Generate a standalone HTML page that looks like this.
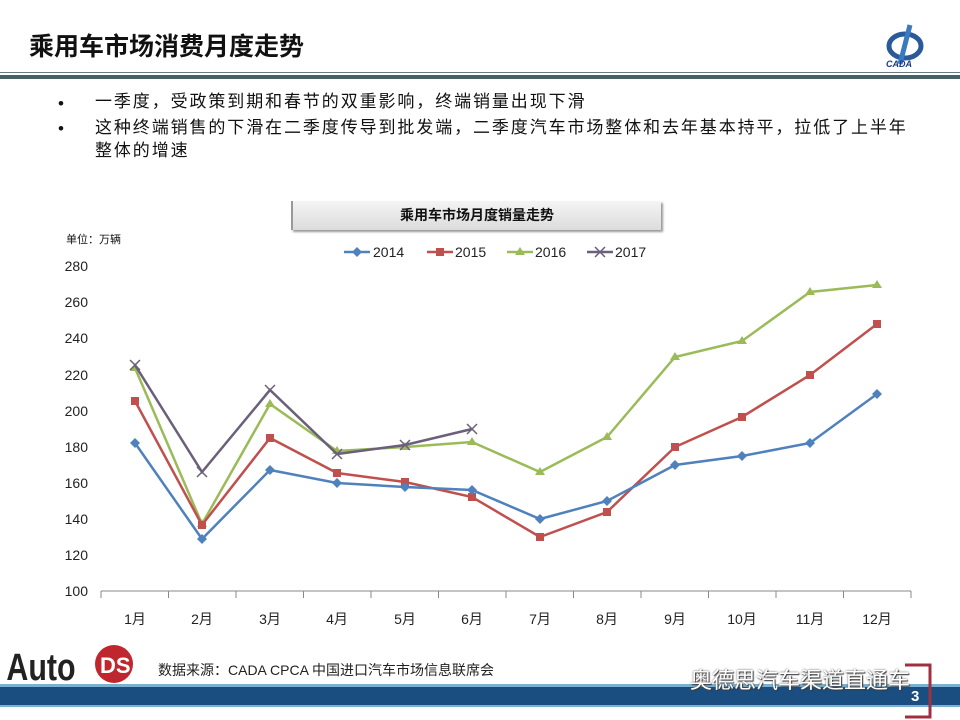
<!DOCTYPE html>
<html><head><meta charset="utf-8"><style>
body{margin:0;width:960px;height:720px;background:#fff;overflow:hidden;position:relative;font-family:"Liberation Sans","Noto Sans CJK SC",sans-serif}
.t{position:absolute}
</style></head><body>
<div class="t" style="left:29px;top:27px;font-size:25px;font-weight:bold;color:#111;letter-spacing:0px">乘用车市场消费月度走势</div>
<div class="t" style="left:880px;top:20px;width:50px;height:48px">
<svg width="50" height="48"><ellipse cx="25" cy="26" rx="16" ry="12" fill="none" stroke="#2a5a9a" stroke-width="5"/><path d="M30 5 L20 44" stroke="#3a7ac0" stroke-width="5"/><text x="6" y="47" font-size="9" font-style="italic" font-weight="bold" fill="#1a3a8a">CADA</text></svg></div>
<div class="t" style="left:0;top:72px;width:960px;height:1px;background:#6a7a80"></div>
<div class="t" style="left:0;top:75px;width:960px;height:4px;background:#4a5e66"></div>
<div class="t" style="left:58px;top:92px;font-size:17px;color:#111;line-height:24px">•</div>
<div class="t" style="left:95px;top:90px;font-size:17px;color:#111;line-height:24px;letter-spacing:1.9px">一季度，受政策到期和春节的双重影响，终端销量出现下滑</div>
<div class="t" style="left:58px;top:117px;font-size:17px;color:#111;line-height:24px">•</div>
<div class="t" style="left:95px;top:116px;width:840px;font-size:17px;color:#111;line-height:23px;white-space:nowrap;letter-spacing:1.9px">这种终端销售的下滑在二季度传导到批发端，二季度汽车市场整体和去年基本持平，拉低了上半年<br>整体的增速</div>
<div class="t" style="left:291px;top:201px;width:368px;height:29px;background:linear-gradient(#f4f4f4,#dcdcdc);box-shadow:2px 2px 2px #999;border-left:2px solid #999;text-align:center;font-size:14px;font-weight:bold;line-height:29px;color:#111">乘用车市场月度销量走势</div>
<div class="t" style="left:66px;top:231px;font-size:11px;color:#111">单位：万辆</div>
<svg class="t" style="left:0;top:0" width="960" height="720">
<g font-size="14" fill="#222" text-anchor="end" font-family="Liberation Sans,sans-serif">
<text x="88" y="596">100</text><text x="88" y="560">120</text><text x="88" y="524">140</text><text x="88" y="488">160</text><text x="88" y="452">180</text><text x="88" y="416">200</text><text x="88" y="380">220</text><text x="88" y="343">240</text><text x="88" y="307">260</text><text x="88" y="271">280</text>
</g>
<line x1="101" y1="591" x2="911" y2="591" stroke="#888"/>
<g stroke="#888"><line x1="101" y1="591" x2="101" y2="598"/><line x1="168.5" y1="591" x2="168.5" y2="598"/><line x1="236" y1="591" x2="236" y2="598"/><line x1="303.5" y1="591" x2="303.5" y2="598"/><line x1="371" y1="591" x2="371" y2="598"/><line x1="438.5" y1="591" x2="438.5" y2="598"/><line x1="506" y1="591" x2="506" y2="598"/><line x1="573.5" y1="591" x2="573.5" y2="598"/><line x1="641" y1="591" x2="641" y2="598"/><line x1="708.5" y1="591" x2="708.5" y2="598"/><line x1="776" y1="591" x2="776" y2="598"/><line x1="843.5" y1="591" x2="843.5" y2="598"/><line x1="911" y1="591" x2="911" y2="598"/></g>
<g font-size="14" fill="#222" text-anchor="middle" font-family="Liberation Sans,'Noto Sans CJK SC',sans-serif">
<text x="135" y="624">1月</text><text x="202" y="624">2月</text><text x="270" y="624">3月</text><text x="337" y="624">4月</text><text x="405" y="624">5月</text><text x="472" y="624">6月</text><text x="540" y="624">7月</text><text x="607" y="624">8月</text><text x="675" y="624">9月</text><text x="742" y="624">10月</text><text x="810" y="624">11月</text><text x="877" y="624">12月</text>
</g>
<polyline fill="none" stroke="#9bbb59" stroke-width="2.5" points="135,368 202,524 270,404 337,451 405,447 472,442 540,472 607,437 675,357 742,341 810,292 877,285"/>
<g fill="#9bbb59"><path d="M135,363l5,8h-10z"/><path d="M202,519l5,8h-10z"/><path d="M270,399l5,8h-10z"/><path d="M337,446l5,8h-10z"/><path d="M405,442l5,8h-10z"/><path d="M472,437l5,8h-10z"/><path d="M540,467l5,8h-10z"/><path d="M607,432l5,8h-10z"/><path d="M675,352l5,8h-10z"/><path d="M742,336l5,8h-10z"/><path d="M810,287l5,8h-10z"/><path d="M877,280l5,8h-10z"/></g>
<polyline fill="none" stroke="#c0504d" stroke-width="2.5" points="135,401 202,525 270,438 337,473 405,482 472,497 540,537 607,512 675,447 742,417 810,375 877,324"/>
<g fill="#c0504d"><rect x="131" y="397" width="8" height="8"/><rect x="198" y="521" width="8" height="8"/><rect x="266" y="434" width="8" height="8"/><rect x="333" y="469" width="8" height="8"/><rect x="401" y="478" width="8" height="8"/><rect x="468" y="493" width="8" height="8"/><rect x="536" y="533" width="8" height="8"/><rect x="603" y="508" width="8" height="8"/><rect x="671" y="443" width="8" height="8"/><rect x="738" y="413" width="8" height="8"/><rect x="806" y="371" width="8" height="8"/><rect x="873" y="320" width="8" height="8"/></g>
<polyline fill="none" stroke="#4f81bd" stroke-width="2.5" points="135,443 202,539 270,470 337,483 405,487 472,490 540,519 607,501 675,465 742,456 810,443 877,394"/>
<g fill="#4f81bd"><path d="M135,438l5,5l-5,5l-5,-5z"/><path d="M202,534l5,5l-5,5l-5,-5z"/><path d="M270,465l5,5l-5,5l-5,-5z"/><path d="M337,478l5,5l-5,5l-5,-5z"/><path d="M405,482l5,5l-5,5l-5,-5z"/><path d="M472,485l5,5l-5,5l-5,-5z"/><path d="M540,514l5,5l-5,5l-5,-5z"/><path d="M607,496l5,5l-5,5l-5,-5z"/><path d="M675,460l5,5l-5,5l-5,-5z"/><path d="M742,451l5,5l-5,5l-5,-5z"/><path d="M810,438l5,5l-5,5l-5,-5z"/><path d="M877,389l5,5l-5,5l-5,-5z"/></g>
<polyline fill="none" stroke="#6b5f7a" stroke-width="2.5" points="135,365 202,472 270,390 337,454 405,445 472,429"/>
<g stroke="#6b5f7a" stroke-width="1.5"><path d="M130,360l10,10M140,360l-10,10"/><path d="M197,467l10,10M207,467l-10,10"/><path d="M265,385l10,10M275,385l-10,10"/><path d="M332,449l10,10M342,449l-10,10"/><path d="M400,440l10,10M410,440l-10,10"/><path d="M467,424l10,10M477,424l-10,10"/></g>
<g font-size="14" fill="#222" font-family="Liberation Sans,sans-serif">
<line x1="344" y1="252" x2="370" y2="252" stroke="#4f81bd" stroke-width="2.5"/><path d="M357,247l5,5l-5,5l-5,-5z" fill="#4f81bd"/><text x="373" y="257">2014</text>
<line x1="427" y1="252" x2="453" y2="252" stroke="#c0504d" stroke-width="2.5"/><rect x="436" y="248" width="8" height="8" fill="#c0504d"/><text x="455" y="257">2015</text>
<line x1="507" y1="252" x2="533" y2="252" stroke="#9bbb59" stroke-width="2.5"/><path d="M520,247l5,8h-10z" fill="#9bbb59"/><text x="535" y="257">2016</text>
<line x1="587" y1="252" x2="613" y2="252" stroke="#6b5f7a" stroke-width="2.5"/><path d="M595,247l10,10M605,247l-10,10" stroke="#6b5f7a" stroke-width="1.5"/><text x="615" y="257">2017</text>
</g>
<rect x="0" y="684" width="960" height="3" fill="#7ab0d0"/>
<rect x="0" y="687" width="960" height="18" fill="#1a4e80"/>
<rect x="0" y="705" width="960" height="2" fill="#7ab0d0"/>
<path d="M905,665h25v52h-25" fill="none" stroke="#a03040" stroke-width="3"/>
<text x="911" y="701" font-size="15" font-weight="bold" fill="#fff">3</text>
<text x="8" y="680" font-size="38" font-weight="bold" fill="#222" font-family="Liberation Sans,sans-serif" transform="scale(0.8,1)">Auto</text>
<circle cx="114" cy="664" r="19" fill="#c0262d"/>
<text x="100" y="673" font-size="22" font-weight="bold" fill="#fff">DS</text>
</svg>
<div class="t" style="left:158px;top:660px;font-size:14px;color:#222">数据来源：CADA  CPCA  中国进口汽车市场信息联席会</div>
<div class="t" style="left:690px;top:663px;font-size:22px;color:#fff;text-shadow:0 0 2px #555,1px 1px 1px #333">奥德思汽车渠道直通车</div>
</body></html>
